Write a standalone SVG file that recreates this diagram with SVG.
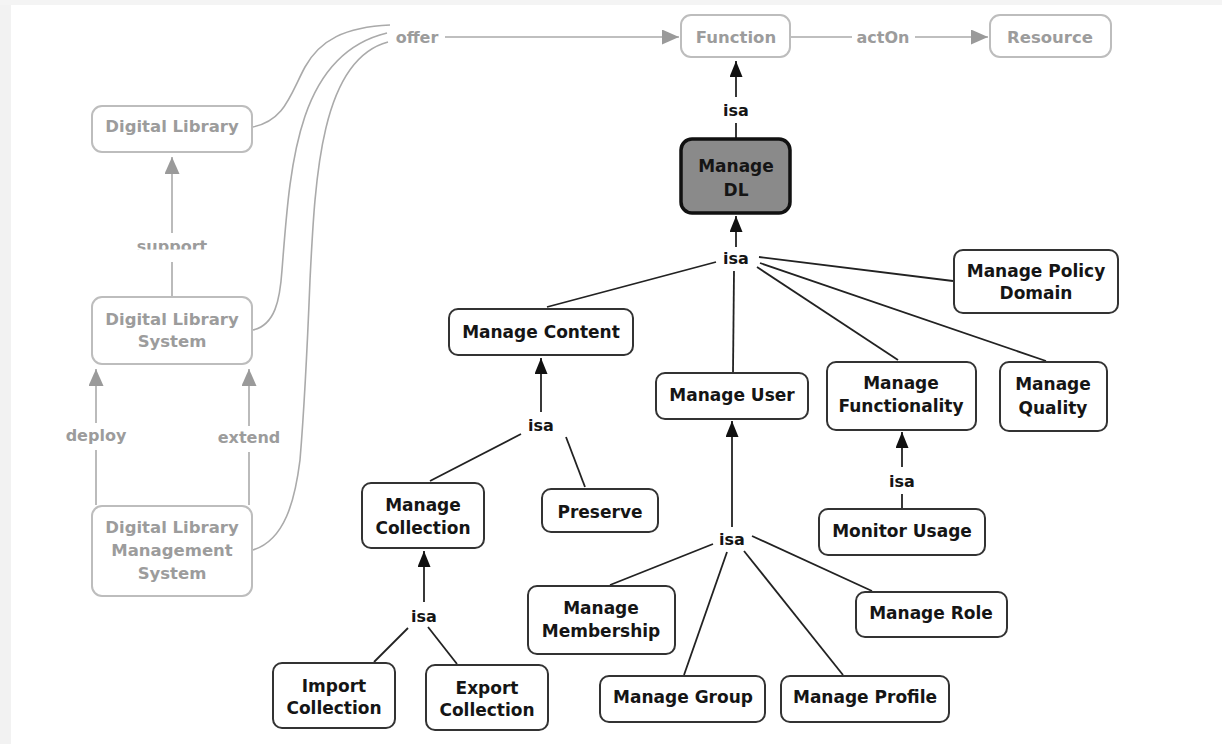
<svg xmlns="http://www.w3.org/2000/svg" width="1222" height="744" viewBox="0 0 1222 744">
  <style>
    text { font-family: "DejaVu Sans", "Liberation Sans", sans-serif; font-weight: bold; text-anchor: middle; }
    .node rect { fill: #ffffff; stroke: #333333; stroke-width: 2; }
    .node text { font-size: 17px; fill: #151515; }
    .ghost rect { fill: #ffffff; stroke: #bdbdbd; stroke-width: 2; }
    .ghost text { font-size: 16.5px; fill: #9c9c9c; }
    .root rect { fill: #8a8a8a; stroke: #111111; stroke-width: 3.5; }
    .link { fill: none; stroke: #222222; stroke-width: 1.8; }
    .glink { fill: none; stroke: #aaaaaa; stroke-width: 1.6; }
    .lbl { font-size: 16px; fill: #151515; }
    .glbl { font-size: 16px; fill: #9c9c9c; }
  </style>
  <defs>
    <marker id="arrow" markerUnits="userSpaceOnUse" markerWidth="16" markerHeight="13" refX="16" refY="6.5" orient="auto">
      <path d="M0,0 L16,6.5 L0,13 z" fill="#111111"/>
    </marker>
    <marker id="garrow" markerUnits="userSpaceOnUse" markerWidth="17" markerHeight="15" refX="17" refY="7.5" orient="auto">
      <path d="M0,0 L17,7.5 L0,15 z" fill="#9a9a9a"/>
    </marker>
    <clipPath id="supportClip">
      <rect x="120" y="230" width="110" height="19.5"/>
    </clipPath>
  </defs>

  <!-- page background with grey margins -->
  <rect x="0" y="0" width="1222" height="744" fill="#ffffff"/>
  <rect x="0" y="0" width="11" height="744" fill="#f2f2f2"/>
  <rect x="0" y="0" width="1222" height="5" fill="#f4f4f4"/>

  <!-- connectors -->
  <g id="connectors">
    <!-- grey upper ontology -->
    <line class="glink" x1="445" y1="37" x2="679" y2="37" marker-end="url(#garrow)"/>
    <line class="glink" x1="791" y1="37" x2="852" y2="37"/>
    <line class="glink" x1="915" y1="37" x2="988" y2="37" marker-end="url(#garrow)"/>
    <path class="glink" d="M253,127 C285,120 290,95 305,67 C320,40 345,27 390,25"/>
    <path class="glink" d="M253,330 C275,325 280,300 282,270 C290,170 295,55 387,33"/>
    <path class="glink" d="M253,550 C285,540 295,500 300,460 C305,400 308,330 310,280 C315,180 320,60 388,42"/>
    <line class="glink" x1="172" y1="297" x2="172" y2="262"/>
    <line class="glink" x1="172" y1="233" x2="172" y2="157" marker-end="url(#garrow)"/>
    <line class="glink" x1="96" y1="505" x2="96" y2="450"/>
    <line class="glink" x1="96" y1="423" x2="96" y2="369" marker-end="url(#garrow)"/>
    <line class="glink" x1="249" y1="505" x2="249" y2="452"/>
    <line class="glink" x1="249" y1="426" x2="249" y2="369" marker-end="url(#garrow)"/>
    <text class="glbl" x="417" y="43">offer</text>
    <text class="glbl" x="883" y="43">actOn</text>
    <text class="glbl" x="172" y="252" clip-path="url(#supportClip)">support</text>
    <text class="glbl" x="96" y="441">deploy</text>
    <text class="glbl" x="249" y="443">extend</text>

    <!-- Manage DL isa Function -->
    <line class="link" x1="736" y1="138" x2="736" y2="123"/>
    <line class="link" x1="736" y1="97" x2="736" y2="61" marker-end="url(#arrow)"/>
    <text class="lbl" x="736" y="116">isa</text>

    <!-- children isa Manage DL -->
    <line class="link" x1="736" y1="247" x2="736" y2="216" marker-end="url(#arrow)"/>
    <text class="lbl" x="736" y="264">isa</text>
    <line class="link" x1="716" y1="262" x2="547" y2="307"/>
    <line class="link" x1="734" y1="271" x2="733" y2="372"/>
    <line class="link" x1="759" y1="257" x2="953" y2="281"/>
    <line class="link" x1="757" y1="267" x2="898" y2="360"/>
    <line class="link" x1="760" y1="263" x2="1046" y2="361"/>

    <!-- children isa Manage Content -->
    <line class="link" x1="541" y1="412" x2="541" y2="358" marker-end="url(#arrow)"/>
    <text class="lbl" x="541" y="431">isa</text>
    <line class="link" x1="521" y1="434" x2="430" y2="481"/>
    <line class="link" x1="566" y1="437" x2="585" y2="487"/>

    <!-- children isa Manage Collection -->
    <line class="link" x1="424" y1="602" x2="424" y2="551" marker-end="url(#arrow)"/>
    <text class="lbl" x="424" y="622">isa</text>
    <line class="link" x1="408" y1="628" x2="374" y2="662"/>
    <line class="link" x1="428" y1="627" x2="457" y2="664"/>

    <!-- children isa Manage User -->
    <line class="link" x1="732" y1="527" x2="732" y2="421" marker-end="url(#arrow)"/>
    <text class="lbl" x="732" y="545">isa</text>
    <line class="link" x1="713" y1="544" x2="610" y2="585"/>
    <line class="link" x1="727" y1="552" x2="684" y2="675"/>
    <line class="link" x1="744" y1="551" x2="843" y2="675"/>
    <line class="link" x1="752" y1="536" x2="872" y2="591"/>

    <!-- Monitor Usage isa Manage Functionality -->
    <line class="link" x1="902" y1="508" x2="902" y2="494"/>
    <line class="link" x1="902" y1="467" x2="902" y2="432" marker-end="url(#arrow)"/>
    <text class="lbl" x="902" y="487">isa</text>
  </g>

  <!-- grey nodes -->
  <g id="digital-library" class="ghost">
    <rect x="92" y="106" width="160" height="46" rx="10"/>
    <text x="172" y="132">Digital Library</text>
  </g>
  <g id="digital-library-system" class="ghost">
    <rect x="92" y="297" width="160" height="67" rx="10"/>
    <text x="172" y="325">Digital Library</text>
    <text x="172" y="347">System</text>
  </g>
  <g id="dlms" class="ghost">
    <rect x="92" y="506" width="160" height="90" rx="10"/>
    <text x="172" y="533">Digital Library</text>
    <text x="172" y="556">Management</text>
    <text x="172" y="579">System</text>
  </g>
  <g id="function" class="ghost">
    <rect x="681" y="15" width="109" height="42" rx="10"/>
    <text x="736" y="43">Function</text>
  </g>
  <g id="resource" class="ghost">
    <rect x="990" y="15" width="121" height="42" rx="10"/>
    <text x="1050" y="43">Resource</text>
  </g>

  <!-- function hierarchy -->
  <g id="manage-dl" class="node root">
    <rect x="681" y="139" width="109" height="74" rx="11"/>
    <text x="736" y="172">Manage</text>
    <text x="736" y="196">DL</text>
  </g>
  <g id="manage-policy-domain" class="node">
    <rect x="954" y="250" width="164" height="63" rx="9"/>
    <text x="1036" y="277">Manage Policy</text>
    <text x="1036" y="299">Domain</text>
  </g>
  <g id="manage-content" class="node">
    <rect x="449" y="309" width="184" height="46" rx="9"/>
    <text x="541" y="338">Manage Content</text>
  </g>
  <g id="manage-user" class="node">
    <rect x="656" y="373" width="152" height="46" rx="9"/>
    <text x="732" y="401">Manage User</text>
  </g>
  <g id="manage-functionality" class="node">
    <rect x="827" y="362" width="149" height="68" rx="9"/>
    <text x="901" y="389">Manage</text>
    <text x="901" y="412">Functionality</text>
  </g>
  <g id="manage-quality" class="node">
    <rect x="1000" y="362" width="107" height="69" rx="9"/>
    <text x="1053" y="390">Manage</text>
    <text x="1053" y="414">Quality</text>
  </g>
  <g id="manage-collection" class="node">
    <rect x="362" y="483" width="122" height="65" rx="9"/>
    <text x="423" y="511">Manage</text>
    <text x="423" y="534">Collection</text>
  </g>
  <g id="preserve" class="node">
    <rect x="542" y="489" width="116" height="43" rx="9"/>
    <text x="600" y="518">Preserve</text>
  </g>
  <g id="import-collection" class="node">
    <rect x="273" y="663" width="122" height="65" rx="9"/>
    <text x="334" y="692">Import</text>
    <text x="334" y="714">Collection</text>
  </g>
  <g id="export-collection" class="node">
    <rect x="426" y="665" width="122" height="65" rx="9"/>
    <text x="487" y="694">Export</text>
    <text x="487" y="716">Collection</text>
  </g>
  <g id="monitor-usage" class="node">
    <rect x="819" y="509" width="166" height="46" rx="9"/>
    <text x="902" y="537">Monitor Usage</text>
  </g>
  <g id="manage-membership" class="node">
    <rect x="528" y="586" width="147" height="68" rx="9"/>
    <text x="601" y="614">Manage</text>
    <text x="601" y="637">Membership</text>
  </g>
  <g id="manage-role" class="node">
    <rect x="856" y="592" width="151" height="45" rx="9"/>
    <text x="931" y="619">Manage Role</text>
  </g>
  <g id="manage-group" class="node">
    <rect x="600" y="676" width="165" height="46" rx="9"/>
    <text x="683" y="703">Manage Group</text>
  </g>
  <g id="manage-profile" class="node">
    <rect x="781" y="676" width="168" height="46" rx="9"/>
    <text x="865" y="703">Manage Profile</text>
  </g>
</svg>
